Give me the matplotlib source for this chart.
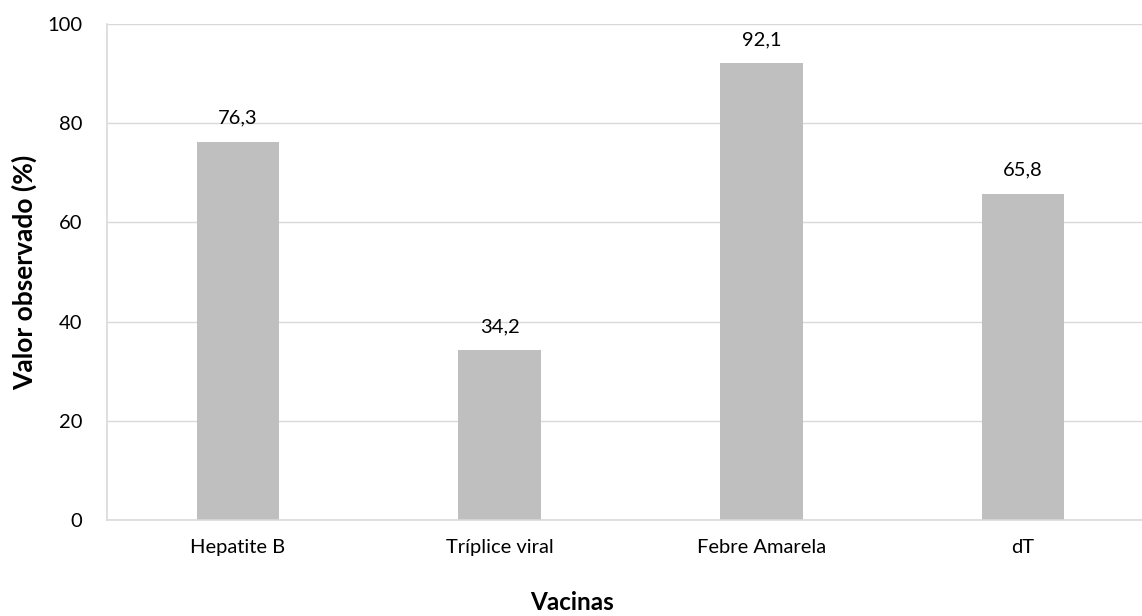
import matplotlib.pyplot as plt

categories = ["Hepatite B", "Tríplice viral", "Febre Amarela", "dT"]
values = [76.3, 34.2, 92.1, 65.8]
labels = ["76,3", "34,2", "92,1", "65,8"]

plt.rcParams['font.family'] = ['Lato', 'DejaVu Sans']

fig = plt.figure(figsize=(11.42, 6.16), dpi=100)
W, H = 1142, 616
left, right, top, bottom = 107, 1154, 24, 520
ax = fig.add_axes([left / W, 1 - bottom / H, (right - left) / W, (bottom - top) / H])

x = range(len(categories))
ax.bar(x, values, width=0.315, color="#BFBFBF", zorder=2)
for xi, v, lab in zip(x, values, labels):
    ax.annotate(lab, (xi, v), xytext=(0, 13), textcoords="offset points",
                ha="center", va="baseline", fontsize=14.5, color="#000000")

ax.set_xlim(-0.5, 3.5)
ax.set_ylim(0, 100)
ax.set_yticks([0, 20, 40, 60, 80, 100])
ax.set_xticks(list(x))
ax.set_xticklabels(categories, fontsize=14.5)
ax.tick_params(axis='y', labelsize=14.5, length=0, pad=18)
ax.tick_params(axis='x', length=0, pad=14)
ax.yaxis.grid(True, color="#D9D9D9", linewidth=1, zorder=0)
ax.set_axisbelow(True)
for s in ["top", "right"]:
    ax.spines[s].set_visible(False)
ax.spines["left"].set_color("#D9D9D9")
ax.spines["bottom"].set_color("#D9D9D9")
ax.spines["left"].set_linewidth(1.2)
ax.spines["bottom"].set_linewidth(1.2)

fig.text(24 / W, 1 - 272 / H, "Valor observado (%)", ha="center", va="center",
         rotation=90, fontsize=19, fontweight="bold")
fig.text(572 / W, 1 - 603 / H, "Vacinas", ha="center", va="center",
         fontsize=17.5, fontweight="bold")

fig.savefig("out.png", dpi=100)
